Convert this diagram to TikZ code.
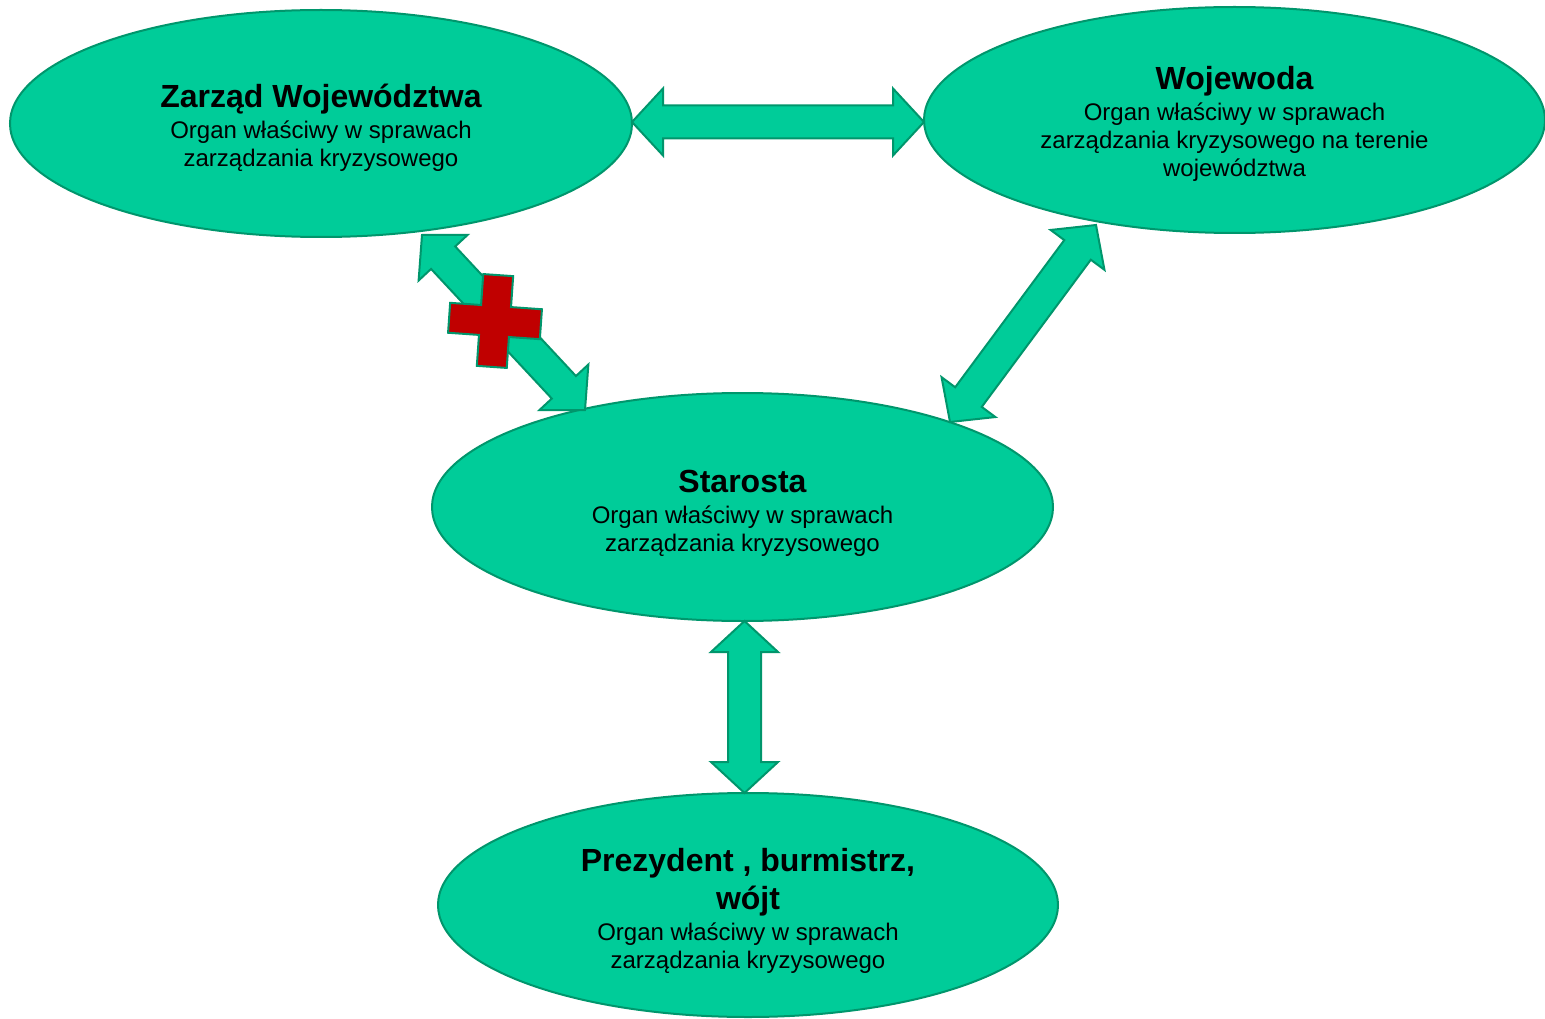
\documentclass[tikz,border=0pt]{standalone}
\usepackage{fontspec}
\setmainfont{Liberation Sans}
\usetikzlibrary{shapes.geometric,calc}
\definecolor{ellfill}{RGB}{0,204,153}
\definecolor{elledge}{RGB}{0,150,108}
\definecolor{crossred}{RGB}{192,0,0}
\newcommand{\ttl}[1]{{\fontsize{32}{36}\selectfont\bfseries #1}}
\newcommand{\dblarr}[2]{%
  \draw[arrbody] (#1)
    -- ($(#1)!31pt!(#2)!33.5pt!90:(#2)$)
    -- ($(#1)!31pt!(#2)!16.5pt!90:(#2)$)
    -- ($(#2)!31pt!(#1)!16.5pt!-90:(#1)$)
    -- ($(#2)!31pt!(#1)!33.5pt!-90:(#1)$)
    -- (#2)
    -- ($(#2)!31pt!(#1)!33.5pt!90:(#1)$)
    -- ($(#2)!31pt!(#1)!16.5pt!90:(#1)$)
    -- ($(#1)!31pt!(#2)!16.5pt!-90:(#2)$)
    -- ($(#1)!31pt!(#2)!33.5pt!-90:(#2)$)
    -- cycle;}
\begin{document}
\begin{tikzpicture}[x=1pt,y=-1pt,
  ell/.style={ellipse,draw=elledge,fill=ellfill,line width=2pt,inner sep=0pt},
  txt/.style={align=center,inner sep=0pt,font=\fontsize{24}{28}\selectfont},
  arrbody/.style={draw=elledge,fill=ellfill,line width=2pt,line join=miter},
  crossbox/.style={draw=elledge,fill=crossred,line width=2pt,line join=miter}]
\useasboundingbox (0,0) rectangle (1545,1019);
\fill[white] (0,0) rectangle (1545,1019);

\node[ell,minimum width=622pt,minimum height=227pt] (zw) at (321,123.5) {};
\node[txt] (zwt) at (321,128)
  {\ttl{Zarząd Województwa}\\[3pt]Organ właściwy w sprawach\\zarządzania kryzysowego};
\node[ell,minimum width=621pt,minimum height=226pt] (wo) at (1234.5,120) {};
\node[txt] (wot) at (1234.5,124)
  {\ttl{Wojewoda}\\[3pt]Organ właściwy w sprawach\\zarządzania kryzysowego na terenie\\województwa};
\node[ell,minimum width=621pt,minimum height=228pt] (st) at (742.5,507) {};
\node[txt] (stt) at (742.5,513)
  {\ttl{Starosta}\\[3pt]Organ właściwy w sprawach\\zarządzania kryzysowego};
\node[ell,minimum width=620pt,minimum height=224pt] (pr) at (748,905) {};
\node[txt] (prt) at (748,911)
  {\ttl{Prezydent , burmistrz,}\\[7pt]\ttl{wójt}\\[3pt]Organ właściwy w sprawach\\zarządzania kryzysowego};

\coordinate (h1) at (632,122);
\coordinate (h2) at (924,122);
\coordinate (v1) at (744.5,621);
\coordinate (v2) at (744.5,793);
\coordinate (dl1) at (422,235);
\coordinate (dl2) at (585,410);
\coordinate (dr1) at (1096,225);
\coordinate (dr2) at (950,422);

\dblarr{h1}{h2}
\dblarr{v1}{v2}
\dblarr{dl1}{dl2}
\dblarr{dr1}{dr2}

\begin{scope}[shift={(495,321)},rotate=-4]
\draw[crossbox] (-15,-46) -- (15,-46) -- (15,-15) -- (46,-15) -- (46,15)
  -- (15,15) -- (15,46) -- (-15,46) -- (-15,15) -- (-46,15) -- (-46,-15)
  -- (-15,-15) -- cycle;
\end{scope}
\end{tikzpicture}
\end{document}
